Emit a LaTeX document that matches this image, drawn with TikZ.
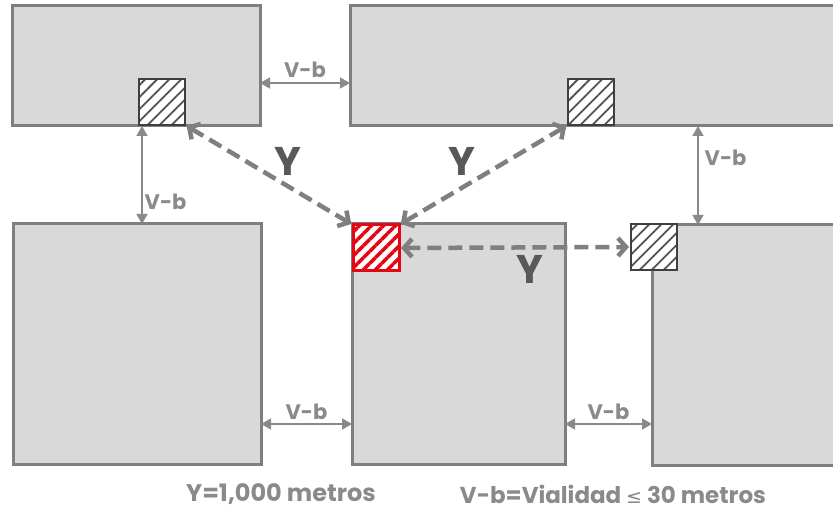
\documentclass[tikz,border=0pt]{standalone}
\usepackage{fontspec}
\setmainfont{Poppins}
\newfontfamily\symfont{DejaVu Sans}
\usetikzlibrary{arrows.meta,patterns.meta,positioning}

\definecolor{blockgray}{HTML}{D9D9D9}
\definecolor{edgegray}{HTML}{7F7F7F}
\definecolor{labelgray}{HTML}{8A8A8A}
\definecolor{ygray}{HTML}{595959}
\definecolor{hatchgray}{HTML}{3F3F3F}
\definecolor{lotred}{HTML}{E30613}

\tikzset{
  block/.style={draw=edgegray, fill=blockgray, line width=3pt, inner sep=0pt, outer sep=0pt, anchor=north west},
  lot/.style={draw=hatchgray, line width=2pt, minimum size=46pt, inner sep=0pt, outer sep=0pt, anchor=north west,
    preaction={fill=white}, pattern={Lines[angle=45,distance=8.5pt,line width=1.8pt]}, pattern color=hatchgray!90},
  redlot/.style={lot, draw=lotred, line width=3pt, pattern={Lines[angle=45,distance=8.5pt,line width=3.5pt]}, pattern color=lotred},
  yarrow/.style={draw=edgegray, line width=4.5pt, dash pattern=on 14pt off 7pt,
    {Straight Barb[length=8pt,width=18pt]}-{Straight Barb[length=8pt,width=18pt]}, shorten <=2pt, shorten >=2pt},
  vb/.style={draw=labelgray, line width=1.4pt, {Triangle[length=10pt,width=11pt]}-{Triangle[length=10pt,width=11pt]}},
  vblabel/.style={text=labelgray, font=\fontsize{21}{21}\selectfont\bfseries, inner sep=2pt},
  ylabel/.style={text=ygray, font=\fontsize{40}{40}\selectfont\bfseries, inner sep=0pt},
  note/.style={text=labelgray, font=\fontsize{24}{24}\selectfont\bfseries, inner sep=0pt}
}

\begin{document}
\begin{tikzpicture}[x=1pt, y=-1pt]
    \useasboundingbox (0,0) rectangle (833,513);

    % Blocks
    \node[block, minimum width=248pt, minimum height=120pt] (tl) at (12,6) {};
    \node[block, minimum width=500pt, minimum height=120pt] (tr) at (350,6) {};
    \node[block, minimum width=248pt, minimum height=240pt] (bl) at (13,224) {};
    \node[block, minimum width=213pt, minimum height=240pt] (bm) at (352,224) {};
    \node[block, minimum width=200pt, minimum height=240pt] (br) at (652,225) {};

    % Lots
    \node[lot] (lottl) at (139,79) {};
    \node[lot] (lottr) at (568,79) {};
    \node[lot] (lotbr) at (631,224) {};
    \node[redlot] (red) at (353,225) {};

    % Distances Y
    \draw[yarrow] (lottl.south east) -- (red.north west);
    \draw[yarrow] (red.north east) -- (lottr.south west);
    \draw[yarrow] (red.east) -- (lotbr.west);
    \node[ylabel] (y1) at (288,161) {Y};
    \node[ylabel] (y2) at (462,161) {Y};
    \node[ylabel] (y3) at (530,269) {Y};

    % Roads V-b
    \coordinate (ht) at ([yshift=-17pt]tl.east);
    \draw[vb] (ht) -- (ht -| tr.west) node[midway, above=3pt, vblabel] {V-b};
    \coordinate (vl) at ([xshift=3pt]lottl.south west);
    \draw[vb] (vl |- tl.south) -- (vl |- bl.north) node[pos=0.77, right, vblabel] {V-b};
    \coordinate (vr) at ([xshift=21pt]lotbr.north east);
    \draw[vb] (vr |- tr.south) -- (vr |- br.north) node[pos=0.32, right=4pt, vblabel] {V-b};
    \coordinate (hl) at ([yshift=40pt]bl.south east);
    \draw[vb] (hl) -- (hl -| bm.west) node[midway, above=2pt, vblabel] {V-b};
    \coordinate (hr) at ([yshift=40pt]bm.south east);
    \draw[vb] (hr) -- (hr -| br.west) node[midway, above=2pt, vblabel] {V-b};

    % Legend
    \node[note] (legy) at (281,494) {Y=1,000 metros};
    \node[note, font=\fontsize{23}{23}\selectfont\bfseries] (legvb) at (613,494) {V-b=Vialidad {\symfont\mdseries\fontsize{19}{19}\selectfont ≤} 30 metros};
\end{tikzpicture}
\end{document}
